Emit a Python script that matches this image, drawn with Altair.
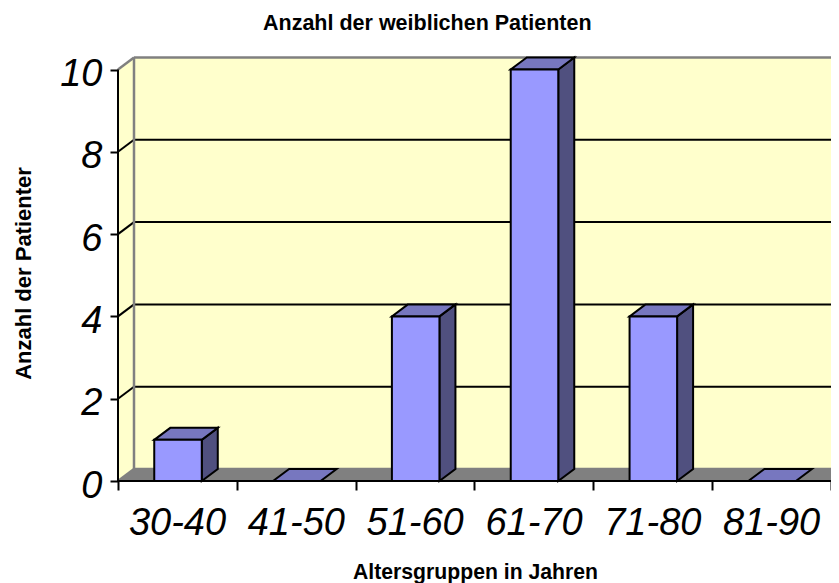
import altair as alt
import pandas as pd

categories = ["30-40", "41-50", "51-60", "61-70", "71-80", "81-90"]
values = [1, 0, 4, 10, 4, 0]
y_ticks = [0, 2, 4, 6, 8, 10]

DX = 16 / 118.83      # depth of the 3-D view, in category units
DY = 12 / 41.15       # depth of the 3-D view, in value units
XMAX = 713 / 118.83
YMAX = 429 / 41.15
BAR_L, BAR_R = 0.305, 0.705
FONT = "Liberation Sans"

X = dict(type="quantitative", scale=alt.Scale(domain=[0, XMAX], nice=False, zero=False))
Y = dict(type="quantitative", scale=alt.Scale(domain=[0, YMAX], nice=False, zero=False))

axis_x = alt.Axis(
    values=list(range(7)),
    labelExpr="[" + ",".join(f"'{c}'" for c in categories) + ",''][datum.value]",
    labelOffset=59, labelFontSize=38, labelFont=FONT, labelFontStyle="italic",
    labelColor="black", labelPadding=14, labelOverlap=False, labelBound=False, labelFlush=False,
    tickColor="black", tickSize=9, tickWidth=2, domain=False, grid=False,
    title="Altersgruppen in Jahren", titleFont=FONT, titleFontSize=21.2, titleFontWeight="bold",
    titleColor="black", titleX=357, titleY=97, titleBaseline="alphabetic", titleAnchor="middle",
)
axis_y = alt.Axis(
    values=y_ticks, labelFontSize=38, labelFont=FONT, labelFontStyle="italic", labelColor="black",
    labelPadding=8, labelOffset=5, labelOverlap=False, labelBound=False, labelFlush=False,
    tickColor="black", tickSize=8, tickWidth=2, domain=False, grid=False,
    title="Anzahl der Patienter", titleFont=FONT, titleFontSize=22, titleFontWeight="bold",
    titleColor="black", titleX=-88, titleY=221, titleBaseline="alphabetic", titleAnchor="middle",
)


def ex(f="x"):
    return alt.X(f, axis=axis_x, **X)


def ey(f="y"):
    return alt.Y(f, axis=axis_y, **Y)


# walls
back = alt.Chart(pd.DataFrame([dict(x=DX, x2=XMAX + 1, y=DY, y2=10 + DY)])).mark_rect(
    color="#FFFFCC", clip=True
).encode(x=ex(), x2="x2", y=ey(), y2="y2")

left = alt.Chart(pd.DataFrame([dict(x=0, y=0, y2=10), dict(x=DX, y=DY, y2=10 + DY)])).mark_area(
    color="#FFFFCC", clip=True
).encode(x=ex(), y=ey(), y2="y2")

floor = alt.Chart(pd.DataFrame([dict(x=0, x2=6, y=0), dict(x=DX, x2=6 + DX, y=DY)])).mark_area(
    orient="horizontal", color="#808080", clip=True
).encode(x=ex(), x2="x2", y=ey())

grid_rows = pd.DataFrame([dict(v=v, x=DX, x2=XMAX + 1, y=v + DY) for v in y_ticks])
grid_black = alt.Chart(grid_rows[grid_rows.v.isin([2, 4, 6, 8])]).mark_rule(
    color="black", strokeWidth=2, clip=True
).encode(x=ex(), x2="x2", y=ey())
grid_gray = alt.Chart(grid_rows[grid_rows.v.isin([0, 10])]).mark_rule(
    color="#808080", strokeWidth=2.5, clip=True
).encode(x=ex(), x2="x2", y=ey())

diag_rows = []
for v in y_ticks:
    diag_rows += [dict(v=v, x=0, y=v), dict(v=v, x=DX, y=v + DY)]
diag = pd.DataFrame(diag_rows)
diag_black = alt.Chart(diag[diag.v.isin([2, 4, 6, 8])]).mark_line(color="black", strokeWidth=2).encode(
    x=ex(), y=ey(), detail="v:N"
)
diag_gray = alt.Chart(diag[diag.v.isin([0, 10])]).mark_line(color="#808080", strokeWidth=2.5).encode(
    x=ex(), y=ey(), detail="v:N"
)

back_edge = alt.Chart(pd.DataFrame([dict(x=DX, y=DY, y2=10 + DY)])).mark_rule(
    color="#808080", strokeWidth=2.5
).encode(x=ex(), y=ey(), y2="y2")

axis_v = alt.Chart(pd.DataFrame([dict(x=0, y=0, y2=10)])).mark_rule(color="black", strokeWidth=2).encode(
    x=ex(), y=ey(), y2="y2"
)
axis_h = alt.Chart(pd.DataFrame([dict(x=0, x2=6, y=0)])).mark_rule(color="black", strokeWidth=2).encode(
    x=ex(), x2="x2", y=ey()
)

# bars
front_rows, side_rows, top_rows = [], [], []
for i, (c, v) in enumerate(zip(categories, values)):
    l, r = i + BAR_L, i + BAR_R
    if v > 0:
        front_rows.append(dict(bar=c, x=l, x2=r, y=0, y2=v))
        side_rows += [dict(bar=c, x=r, y=0, y2=v), dict(bar=c, x=r + DX, y=DY, y2=v + DY)]
    top_rows += [dict(bar=c, x=l, x2=r, y=v), dict(bar=c, x=l + DX, x2=r + DX, y=v + DY)]

side = alt.Chart(pd.DataFrame(side_rows)).mark_area(color="#50507F", stroke="black", strokeWidth=2).encode(
    x=ex(), y=ey(), y2="y2", detail="bar:N"
)
top = alt.Chart(pd.DataFrame(top_rows)).mark_area(
    orient="horizontal", color="#7777BF", stroke="black", strokeWidth=2
).encode(x=ex(), x2="x2", y=ey(), detail="bar:N")
front = alt.Chart(pd.DataFrame(front_rows)).mark_rect(color="#9999FF", stroke="black", strokeWidth=2).encode(
    x=ex(), x2="x2", y=ey(), y2="y2"
)

chart = alt.layer(
    back, left, floor, grid_gray, grid_black, diag_gray, diag_black, back_edge,
    axis_v, axis_h, side, top, front,
).properties(
    width=713,
    height=429,
    autosize="none",
    padding={"left": 110, "top": 44, "right": 0, "bottom": 102},
    title=alt.TitleParams(
        "Anzahl der weiblichen Patienten", font=FONT, fontSize=21.5, fontWeight="bold", color="black",
        anchor="start", dx=251, offset=1, baseline="alphabetic",
    ),
).configure_view(stroke=None)

chart.save("out.html", embed_options={"renderer": "svg", "actions": False})
